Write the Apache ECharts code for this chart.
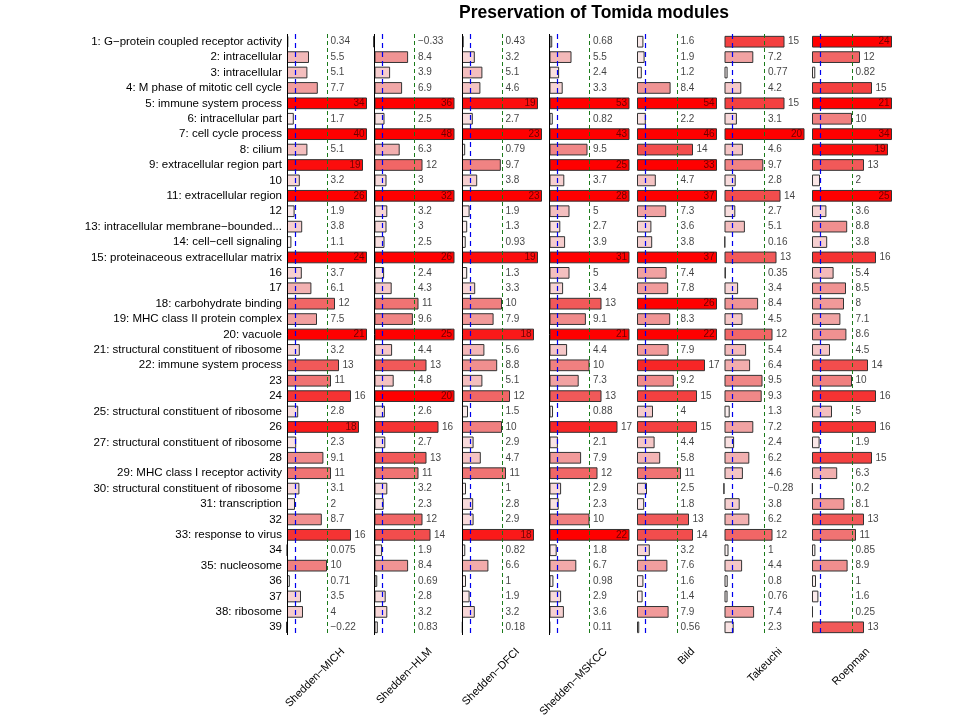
<!DOCTYPE html>
<html>
<head>
<meta charset="utf-8">
<script src="https://cdn.jsdelivr.net/npm/echarts@6/dist/echarts.min.js"></script>
<style>html,body{margin:0;padding:0;background:#fff}#c{width:960px;height:720px}</style>
</head>
<body>
<div id="c"></div>
<script>
const categories = [
  "1: G\u2212protein coupled receptor activity","2: intracellular","3: intracellular","4: M phase of mitotic cell cycle",
  "5: immune system process","6: intracellular part","7: cell cycle process","8: cilium","9: extracellular region part",
  "10","11: extracellular region","12","13: intracellular membrane\u2212bounded...","14: cell\u2212cell signaling",
  "15: proteinaceous extracellular matrix","16","17","18: carbohydrate binding","19: MHC class II protein complex",
  "20: vacuole","21: structural constituent of ribosome","22: immune system process","23","24",
  "25: structural constituent of ribosome","26","27: structural constituent of ribosome","28",
  "29: MHC class I receptor activity","30: structural constituent of ribosome","31: transcription","32",
  "33: response to virus","34","35: nucleosome","36","37","38: ribosome","39"
];
const datasetNames = ["Shedden\u2212MICH","Shedden\u2212HLM","Shedden\u2212DFCI","Shedden\u2212MSKCC","Bild","Takeuchi","Roepman"];

const sheddenMICH = [0.34,5.5,5.1,7.7,34,1.7,40,5.1,19,3.2,26,1.9,3.8,1.1,24,3.7,6.1,12,7.5,21,3.2,13,11,16,2.8,18,2.3,9.1,11,3.1,2,8.7,16,0.075,10,0.71,3.5,4,-0.22];
const sheddenHLM = [-0.33,8.4,3.9,6.9,36,2.5,48,6.3,12,3,32,3.2,3,2.5,26,2.4,4.3,11,9.6,25,4.4,13,4.8,20,2.6,16,2.7,13,11,3.2,2.3,12,14,1.9,8.4,0.69,2.8,3.2,0.83];
const sheddenDFCI = [0.43,3.2,5.1,4.6,19,2.7,23,0.79,9.7,3.8,23,1.9,1.3,0.93,19,1.3,3.3,10,7.9,18,5.6,8.8,5.1,12,1.5,10,2.9,4.7,11,1,2.8,2.9,18,0.82,6.6,1,1.9,3.2,0.18];
const sheddenMSKCC = [0.68,5.5,2.4,3.3,53,0.82,43,9.5,25,3.7,28,5,2.7,3.9,31,5,3.4,13,9.1,21,4.4,10,7.3,13,0.88,17,2.1,7.9,12,2.9,2.3,10,22,1.8,6.7,0.98,2.9,3.6,0.11];
const bild = [1.6,1.9,1.2,8.4,54,2.2,46,14,33,4.7,37,7.3,3.6,3.8,37,7.4,7.8,26,8.3,22,7.9,17,9.2,15,4,15,4.4,5.8,11,2.5,1.8,13,14,3.2,7.6,1.6,1.4,7.9,0.56];
const takeuchi = [15,7.2,0.77,4.2,15,3.1,20,4.6,9.7,2.8,14,2.7,5.1,0.16,13,0.35,3.4,8.4,4.5,12,5.4,6.4,9.5,9.3,1.3,7.2,2.4,6.2,4.6,-0.28,3.8,6.2,12,1,4.4,0.8,0.76,7.4,2.3];
const roepman = [24,12,0.82,15,21,10,34,19,13,2,25,3.6,8.8,3.8,16,5.4,8.5,8,7.1,8.6,4.5,14,10,16,5,16,1.9,15,6.3,0.2,8.1,13,11,0.85,8.9,1,1.6,0.25,13];

const allValues = [sheddenMICH, sheddenHLM, sheddenDFCI, sheddenMSKCC, bild, takeuchi, roepman];
const showZeroLine = [true, true, true, true, false, false, false];

const CAP = 20;        // bars are truncated at this value
const INSIDE_AT = 18;  // labels go inside the bar from this value
const LOW_LINE = 2, HIGH_LINE = 10;
const FONT = "'Liberation Sans', Arial, Helvetica, sans-serif";

function fillColor(v) {
  const t = Math.max(0, Math.min(1, v / CAP));
  const r = Math.round(255 - 60 * t * (1 - t));
  const g = Math.round(255 * (1 - t));
  return 'rgb(' + r + ',' + g + ',' + g + ')';
}
function fmt(v) { return String(v).replace('-', '\u2212'); }

const chart = echarts.init(document.getElementById('c'), null, {renderer: 'canvas'});

const firstAxisX = 287, panelStep = 87.5, pxPerUnit = 4;
const gridTop = 34, gridHeight = 601;

const grids = [], xAxes = [], yAxes = [], series = [], graphics = [];

allValues.forEach((vals, i) => {
  const axisX = firstAxisX + i * panelStep;
  grids.push({left: axisX - pxPerUnit, width: 22 * pxPerUnit, top: gridTop, height: gridHeight, containLabel: false});
  xAxes.push({gridIndex: i, type: 'value', min: -1, max: 21, show: false});
  yAxes.push({
    gridIndex: i, type: 'category', data: categories, inverse: true,
    axisLine: {show: false}, axisTick: {show: false}, splitLine: {show: false},
    axisLabel: {show: i === 0, margin: 1, fontSize: 11.5, color: '#000', fontFamily: FONT, interval: 0}
  });
  series.push({
    type: 'bar', xAxisIndex: i, yAxisIndex: i, silent: true, barWidth: '76%',
    data: vals.map(v => ({value: Math.min(v, CAP), itemStyle: {color: fillColor(v)}})),
    itemStyle: {borderColor: '#333', borderWidth: 1},
    animation: false, z: 2
  });
  const lines = [];
  if (showZeroLine[i]) lines.push({xAxis: 0, lineStyle: {color: '#000', width: 1, type: 'solid'}});
  lines.push({xAxis: LOW_LINE, lineStyle: {color: '#0000ee', width: 1.2, type: [5, 4]}});
  lines.push({xAxis: HIGH_LINE, lineStyle: {color: '#1a7a1a', width: 1, type: [4, 3]}});
  series.push({
    type: 'scatter', xAxisIndex: i, yAxisIndex: i, silent: true, symbolSize: 1,
    itemStyle: {color: 'rgba(0,0,0,0)'},
    data: vals.map((v, j) => {
      const inside = v >= INSIDE_AT;
      return {
        value: [inside ? Math.min(v, CAP) : Math.max(v, HIGH_LINE), j],
        label: {
          show: true, position: inside ? 'left' : 'right', distance: inside ? 2 : 3,
          color: inside ? '#4a0000' : '#111', fontSize: 10, fontFamily: FONT,
          formatter: () => fmt(v)
        }
      };
    }),
    markLine: {silent: true, symbol: 'none', label: {show: false}, animation: false, data: lines},
    animation: false, z: 4
  });
  graphics.push({
    type: 'text', x: axisX + 52, y: 646, rotation: Math.PI / 4,
    style: {text: datasetNames[i], fontSize: 11, fontFamily: FONT, fill: '#000', align: 'right', verticalAlign: 'top'}
  });
});

graphics.push({
  type: 'text', x: 594, y: 13,
  style: {text: 'Preservation of Tomida modules', fontSize: 17.5, fontWeight: 'bold', fontFamily: FONT, fill: '#000', align: 'center', verticalAlign: 'middle'}
});

chart.setOption({
  animation: false,
  backgroundColor: '#fff',
  grid: grids, xAxis: xAxes, yAxis: yAxes, series: series,
  graphic: graphics
});
</script>
</body>
</html>
